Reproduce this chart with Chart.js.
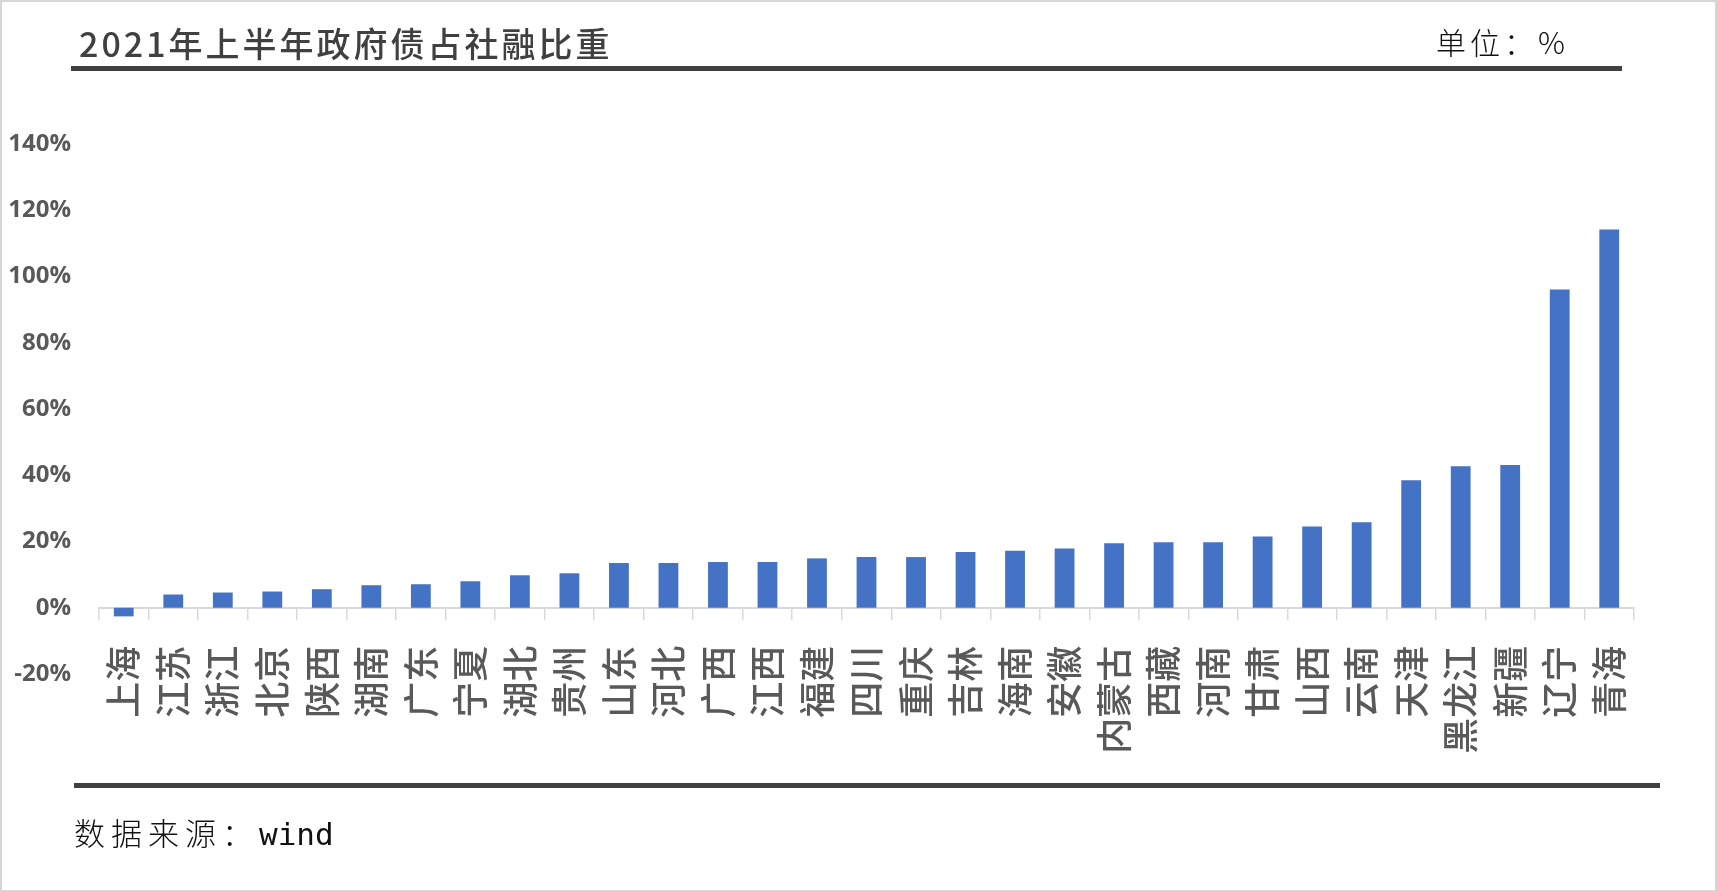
<!DOCTYPE html>
<html>
<head>
<meta charset="utf-8">
<script src="https://cdn.jsdelivr.net/npm/chart.js@4.4.1/dist/chart.umd.min.js"></script>
<style>
  html, body { margin: 0; padding: 0; background: #fff; }
  #wrap { position: relative; width: 1717px; height: 892px; box-sizing: border-box; border: 2px solid #d6d6d6; overflow: hidden; }
  #wrap canvas { position: absolute; left: -2px; top: -2px; }
  .txt { position: absolute; white-space: nowrap; font-family: "Noto Sans CJK SC", sans-serif; line-height: 1; }
  #title { left: 77px; top: 24px; font-size: 34px; color: #404040; letter-spacing: 3px; font-weight: 500; }
  #unit { left: 1434px; top: 24px; font-size: 30px; color: #111; letter-spacing: 4px; font-weight: 300; }
  #source { left: 72px; top: 814px; font-size: 31px; color: #111; letter-spacing: 6px; font-weight: 300; }
  #source span { font-family: "DejaVu Sans Mono", monospace; font-weight: normal; letter-spacing: 0; font-size: 31px; }
  .rule { position: absolute; background: #404040; }
  #ruleTop { left: 69px; top: 64px; width: 1551px; height: 5px; }
  #ruleBottom { left: 72px; top: 781px; width: 1586px; height: 5px; }
</style>
</head>
<body>
<div id="wrap">
  <canvas id="shareChart" width="1717" height="892"></canvas>
  <div class="rule" id="ruleTop"></div>
  <div class="rule" id="ruleBottom"></div>
  <div class="txt" id="title">2021年上半年政府债占社融比重</div>
  <div class="txt" id="unit">单位：%</div>
  <div class="txt" id="source">数据来源：<span>wind</span></div>
</div>
<script>
// 各省份（按比重从低到高）
const provinces = ['上海', '江苏', '浙江', '北京', '陕西', '湖南', '广东', '宁夏', '湖北', '贵州',
  '山东', '河北', '广西', '江西', '福建', '四川', '重庆', '吉林', '海南', '安徽',
  '内蒙古', '西藏', '河南', '甘肃', '山西', '云南', '天津', '黑龙江', '新疆', '辽宁', '青海'];

// 政府债占社融比重，单位 %
const shares = [-2.6, 4.0, 4.6, 4.9, 5.6, 6.8, 7.1, 8.0, 9.8, 10.4,
  13.5, 13.5, 13.8, 13.8, 14.9, 15.3, 15.3, 16.8, 17.2, 17.9,
  19.5, 19.8, 19.8, 21.5, 24.5, 25.8, 38.5, 42.7, 43.1, 96.1, 114.2];

// 纵轴刻度
const yMin = -20;
const yMax = 140;
const yStep = 20;

const config = {
  type: 'bar',
  data: {
    labels: provinces,
    datasets: [{
      label: '政府债占社融比重',
      data: shares,
      backgroundColor: '#4472C4',
      borderWidth: 0,
      barPercentage: 0.4,
      categoryPercentage: 1.0
    }]
  },
  options: {
    responsive: false,
    animation: false,
    devicePixelRatio: 1,
    layout: {
      padding: { left: 0, right: 83, top: 144, bottom: 218 }
    },
    plugins: {
      legend: { display: false },
      tooltip: { enabled: false }
    },
    scales: {
      x: {
        position: { y: 0 },
        afterFit: (scale) => { scale.height = 60; },
        border: { display: true, color: '#d9d9d9', width: 2 },
        grid: {
          offset: true,
          drawOnChartArea: false,
          drawTicks: true,
          tickLength: 11,
          color: '#d9d9d9',
          lineWidth: 1.5
        },
        ticks: {
          autoSkip: false,
          minRotation: 90,
          maxRotation: 90,
          padding: 27,
          color: '#595959',
          font: { family: '"Noto Sans CJK SC", sans-serif', size: 36, weight: '500' }
        }
      },
      y: {
        min: yMin,
        max: yMax,
        afterFit: (scale) => { scale.width = 99; },
        border: { display: false },
        grid: { display: false, drawTicks: false },
        ticks: {
          stepSize: yStep,
          padding: 28,
          color: '#595959',
          font: { family: '"Open Sans", sans-serif', size: 24, weight: 'bold' },
          callback: (v) => v + '%'
        }
      }
    }
  }
};

const ctx = document.getElementById('shareChart').getContext('2d');
new Chart(ctx, config);
</script>
</body>
</html>
